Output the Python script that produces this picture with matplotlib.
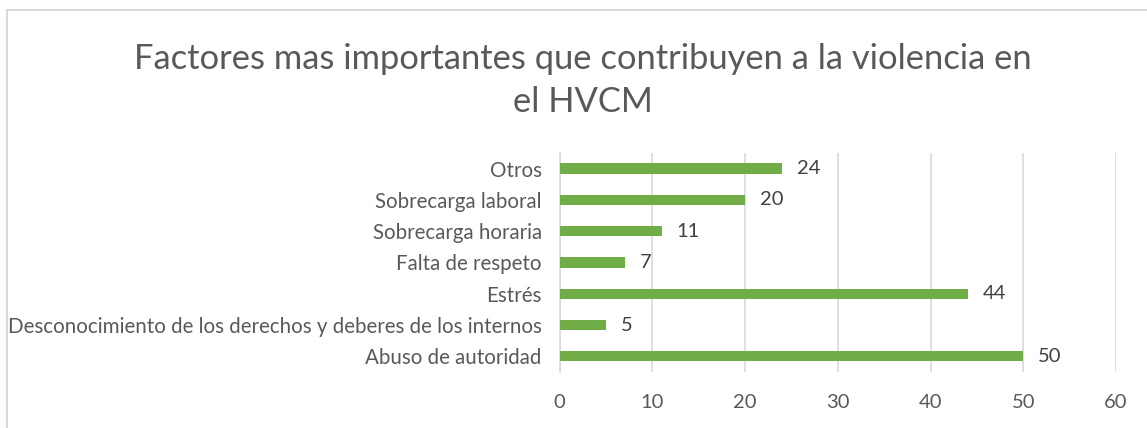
import matplotlib.pyplot as plt
from matplotlib.patches import Rectangle

# Data
categories = ['Abuso de autoridad',
              'Desconocimiento de los derechos y deberes de los internos',
              'Estrés', 'Falta de respeto', 'Sobrecarga horaria',
              'Sobrecarga laboral', 'Otros']
values = [50, 5, 44, 7, 11, 20, 24]
xticks = [0, 10, 20, 30, 40, 50, 60]

plt.rcParams['font.family'] = ['Lato', 'DejaVu Sans']
text_color = '#595959'
bar_color = '#70AD47'
grid_color = '#D9D9D9'

fig = plt.figure(figsize=(11.47, 4.28), dpi=100)
ax = fig.add_axes([0.488, 0.131, 0.485, 0.5115])

# chart border (cut off at right and bottom like the screenshot)
fig.patches.append(Rectangle((7 / 1147, -0.05), 1.2, 1 - 10 / 428 + 0.05,
                             transform=fig.transFigure, fill=False,
                             edgecolor=grid_color, linewidth=1.5))

ypos = list(range(len(categories)))
ax.barh(ypos, values, height=0.33, color=bar_color, zorder=3)
for y, v in zip(ypos, values):
    ax.text(v + 1.6, y, str(v), va='center', ha='left',
            fontsize=14.5, color='#404040')

ax.set_xlim(0, 60)
ax.set_ylim(-0.5, len(categories) - 0.5)
ax.set_xticks(xticks)
ax.set_yticks(ypos)
ax.set_yticklabels(categories)
ax.tick_params(axis='x', length=0, labelsize=14.5, colors=text_color, pad=16)
ax.tick_params(axis='y', length=0, labelsize=14.8, colors=text_color, pad=13)
ax.grid(axis='x', color=grid_color, linewidth=1.2, zorder=0)
for s in ['top', 'right', 'bottom']:
    ax.spines[s].set_visible(False)
ax.spines['left'].set_color(grid_color)
ax.spines['left'].set_linewidth(1.2)

fig.text(0.508, 0.812, 'Factores mas importantes que contribuyen a la violencia en\nel HVCM',
         ha='center', va='center', fontsize=24.8, color=text_color, linespacing=1.45)

fig.savefig('out.png', dpi=100)
